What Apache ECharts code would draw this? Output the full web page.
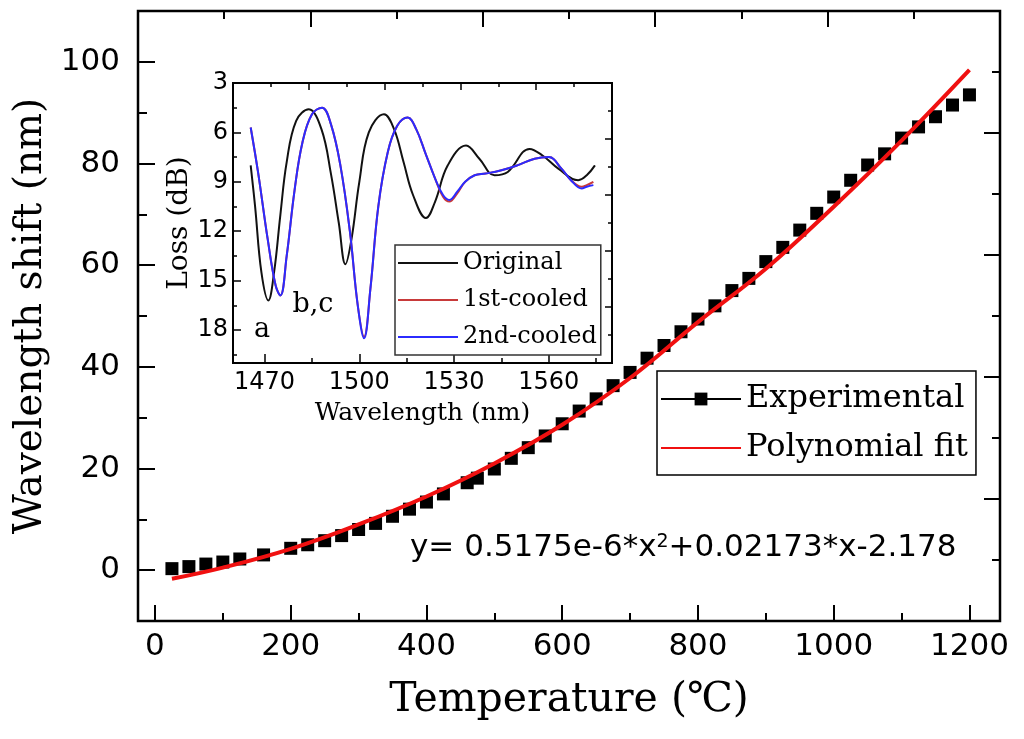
<!DOCTYPE html>
<html><head><meta charset="utf-8">
<script src="https://cdn.jsdelivr.net/npm/echarts@6/dist/echarts.min.js"></script>
<style>html,body{margin:0;padding:0;background:#fff}#c{width:1024px;height:739px}</style>
</head><body><div id="c"></div>
<script>
// ---- main chart data ----
const tempC = [25,50,75,100,125,160,200,225,250,275,300,325,350,375,400,425,460,475,500,525,550,575,600,625,650,675,700,725,750,775,800,825,850,875,900,925,950,975,1000,1025,1050,1075,1100,1125,1150,1175,1200];
const shiftNm = [0.3,0.7,1.2,1.6,2.2,3.0,4.3,5.0,5.8,6.8,8.0,9.2,10.6,12.0,13.4,15.0,17.2,18.1,19.9,22.0,24.1,26.4,28.8,31.3,33.7,36.3,38.9,41.7,44.2,46.9,49.4,52.0,55.0,57.4,60.7,63.5,66.9,70.2,73.4,76.7,79.7,81.9,85.0,87.2,89.2,91.5,93.5];
const fitTemp = [25,100,200,300,400,500,600,700,800,900,1000,1100,1200];
const fitShift = [-1.7,0.5,4.2,9.0,14.5,21.0,28.6,37.8,48.8,59.3,71.5,84.5,98.4];
const xMajorTicks = [0,200,400,600,800,1000,1200];
const xMinorTicks = [100,300,500,700,900,1100];
const yMajorTicks = [0,20,40,60,80,100];
const yMinorTicks = [10,30,50,70,90];
const formulaText = 'y= 0.5175e-6*x{sup|2}+0.02173*x-2.178';

// ---- inset data ----
const origWl = [1465.6,1467,1469,1471.2,1473,1475,1477,1480,1484,1488,1491,1493.5,1495.6,1497.5,1500,1503,1507.8,1511,1514,1517,1521.1,1524,1528,1533.8,1538,1542.8,1547,1553.9,1558,1563,1569.3,1572,1574.6];
const origLoss = [8.0,10.5,14.5,16.2,14.5,11.0,7.8,5.3,4.6,5.8,8.5,11.5,14.0,12.5,9.0,6.0,4.9,5.8,7.8,9.8,11.2,10.2,8.0,6.8,7.6,8.6,8.4,7.0,7.4,8.2,8.9,8.6,8.0];
const cooledWl = [1465.6,1468,1471,1473.5,1475,1477,1479.5,1482,1485,1488.2,1491,1494,1497,1499.5,1501.5,1503.5,1506,1509,1512,1515.3,1518,1521,1524,1526.5,1528.5,1531,1533.5,1536.5,1540,1545,1550,1555.5,1560,1564,1567,1570.4,1572,1574.1];
const cooled1Loss = [5.7,8.5,12.5,15.3,15.9,13.5,9.5,6.6,4.9,4.5,5.5,8.0,12.0,16.5,18.4,15.5,10.5,7.2,5.6,5.1,5.8,7.3,8.8,9.9,10.2,9.7,9.0,8.6,8.5,8.3,8.0,7.6,7.5,8.2,8.9,9.3,9.2,9.0];
const cooled2Loss = [5.7,8.5,12.5,15.3,15.9,13.5,9.5,6.6,4.9,4.5,5.5,8.0,12.0,16.5,18.5,15.5,10.5,7.2,5.6,5.1,5.8,7.3,8.8,9.8,10.1,9.6,9.0,8.6,8.5,8.3,8.0,7.6,7.5,8.2,8.9,9.4,9.3,9.2];
const insetXMajor = [1470,1500,1530,1560];
const insetXMinor = [1485,1515,1545,1575];
const insetYMajor = [3,6,9,12,15,18];
const insetYMinor = [4.5,7.5,10.5,13.5,16.5,19.5];

const zip = (a, b) => a.map((v, i) => [v, b[i]]);
const SANS = 'DejaVu Sans', SERIF = 'DejaVu Serif';
const plain = v => String(v);
const NOLINE = {show: false, onZero: false};

function tickOnly(base, ticks, len, w) {
  const tick = {show: true, inside: true, length: len, lineStyle: {color: '#000', width: w}};
  if (ticks) tick.customValues = ticks;
  return Object.assign({
    type: 'value', axisLine: NOLINE, splitLine: {show: false},
    axisLabel: {show: false}, axisTick: tick
  }, base);
}

const xAxes = [
  {type: 'value', gridIndex: 0, position: 'bottom', min: -25, max: 1245,
   axisLine: NOLINE, splitLine: {show: false},
   axisTick: {show: true, inside: true, length: 16, customValues: xMajorTicks, lineStyle: {color: '#000', width: 2}},
   axisLabel: {show: true, customValues: xMajorTicks, formatter: plain, margin: 10, color: '#000', fontSize: 31, fontFamily: SANS},
   name: 'Temperature (℃)', nameLocation: 'middle', nameGap: 59,
   nameTextStyle: {color: '#000', fontSize: 41, fontFamily: SERIF}},
  tickOnly({gridIndex: 0, position: 'bottom', min: -25, max: 1245}, xMinorTicks, 8, 2),
  tickOnly({gridIndex: 0, position: 'top', min: 0, max: 10, interval: 2}, null, 16, 2),
  tickOnly({gridIndex: 0, position: 'top', min: 0, max: 10, interval: 1}, null, 8, 2),
  {type: 'value', gridIndex: 1, position: 'bottom', min: 1460, max: 1580,
   axisLine: NOLINE, splitLine: {show: false},
   axisTick: {show: true, inside: true, length: 9, customValues: insetXMajor, lineStyle: {color: '#000', width: 1.5}},
   axisLabel: {show: true, customValues: insetXMajor, formatter: plain, margin: 8, color: '#000', fontSize: 24, fontFamily: SANS},
   name: 'Wavelength (nm)', nameLocation: 'middle', nameGap: 38,
   nameTextStyle: {color: '#000', fontSize: 25, fontFamily: SERIF}},
  tickOnly({gridIndex: 1, position: 'bottom', min: 1460, max: 1580}, insetXMinor, 5, 1.5),
  tickOnly({gridIndex: 1, position: 'top', min: 0, max: 10, interval: 2}, null, 7, 1.5),
  tickOnly({gridIndex: 1, position: 'top', min: 0, max: 10, interval: 1}, null, 4, 1.5)
];

const yAxes = [
  {type: 'value', gridIndex: 0, position: 'left', min: -10, max: 110,
   axisLine: NOLINE, splitLine: {show: false},
   axisTick: {show: true, inside: true, length: 17, customValues: yMajorTicks, lineStyle: {color: '#000', width: 2}},
   axisLabel: {show: true, customValues: yMajorTicks, formatter: plain, margin: 18, color: '#000', fontSize: 31, fontFamily: SANS},
   name: 'Wavelength shift (nm)', nameLocation: 'middle', nameGap: 86,
   nameTextStyle: {color: '#000', fontSize: 39, fontFamily: SERIF}},
  tickOnly({gridIndex: 0, position: 'left', min: -10, max: 110}, yMinorTicks, 9, 2),
  tickOnly({gridIndex: 0, position: 'right', min: 0, max: 10, interval: 2}, null, 16, 2),
  tickOnly({gridIndex: 0, position: 'right', min: 0, max: 10, interval: 1}, null, 8, 2),
  {type: 'value', gridIndex: 1, position: 'left', min: 3, max: 20, inverse: true,
   axisLine: NOLINE, splitLine: {show: false},
   axisTick: {show: true, inside: true, length: 8, customValues: insetYMajor, lineStyle: {color: '#000', width: 1.5}},
   axisLabel: {show: true, customValues: insetYMajor, formatter: plain, margin: 5, color: '#000', fontSize: 24, fontFamily: SANS},
   name: 'Loss (dB)', nameLocation: 'middle', nameGap: 35,
   nameTextStyle: {color: '#000', fontSize: 28, fontFamily: SERIF}},
  tickOnly({gridIndex: 1, position: 'left', min: 3, max: 20, inverse: true}, insetYMinor, 4, 1.5),
  tickOnly({gridIndex: 1, position: 'right', min: 0, max: 10, interval: 2}, null, 7, 1.5),
  tickOnly({gridIndex: 1, position: 'right', min: 0, max: 10, interval: 1}, null, 4, 1.5)
];

const chart = echarts.init(document.getElementById('c'), null, {renderer: 'canvas'});
chart.setOption({
  animation: false,
  backgroundColor: '#fff',
  grid: [
    {left: 138, top: 11, width: 862, height: 610, show: true, borderColor: '#000', borderWidth: 2.5, backgroundColor: 'transparent'},
    {left: 233, top: 83, width: 379, height: 280, show: true, borderColor: '#000', borderWidth: 2, backgroundColor: '#fff'}
  ],
  xAxis: xAxes,
  yAxis: yAxes,
  legend: [
    {orient: 'vertical', left: 657, top: 371, padding: [12, 8, 11, 3], itemGap: 17,
     itemWidth: 80, itemHeight: 16, borderColor: '#000', borderWidth: 1.5, backgroundColor: '#fff',
     textStyle: {color: '#000', fontSize: 32, fontFamily: SERIF},
     data: [
       {name: 'Experimental', lineStyle: {color: '#000', width: 2, opacity: 1}},
       {name: 'Polynomial fit', itemStyle: {opacity: 0}}
     ]},
    {orient: 'vertical', left: 395, top: 245, padding: [6, 4, 6, 2], itemGap: 13,
     itemWidth: 60, itemHeight: 10, borderColor: '#333', borderWidth: 1.5, backgroundColor: '#fff',
     textStyle: {color: '#000', fontSize: 24, fontFamily: SERIF},
     data: [
       {name: 'Original', itemStyle: {opacity: 0}},
       {name: '1st-cooled', itemStyle: {opacity: 0}},
       {name: '2nd-cooled', itemStyle: {opacity: 0}}
     ]}
  ],
  series: [
    {name: 'Experimental', type: 'line', xAxisIndex: 0, yAxisIndex: 0, data: zip(tempC, shiftNm),
     symbol: 'rect', symbolSize: 13, showSymbol: true, itemStyle: {color: '#000'},
     lineStyle: {color: '#000', opacity: 0}, z: 2},
    {name: 'Polynomial fit', type: 'line', xAxisIndex: 0, yAxisIndex: 0, data: zip(fitTemp, fitShift),
     smooth: 0.4, showSymbol: false, symbol: 'circle', itemStyle: {color: '#f01010'},
     lineStyle: {color: '#f01010', width: 4}, z: 3},
    {name: 'Original', type: 'line', xAxisIndex: 4, yAxisIndex: 4, data: zip(origWl, origLoss),
     smooth: 0.4, showSymbol: false, symbol: 'circle', itemStyle: {color: '#111'},
     lineStyle: {color: '#111', width: 2}, z: 4},
    {name: '1st-cooled', type: 'line', xAxisIndex: 4, yAxisIndex: 4, data: zip(cooledWl, cooled1Loss),
     smooth: 0.4, showSymbol: false, symbol: 'circle', itemStyle: {color: '#c83a3a'},
     lineStyle: {color: '#c83a3a', width: 2}, z: 4},
    {name: '2nd-cooled', type: 'line', xAxisIndex: 4, yAxisIndex: 4, data: zip(cooledWl, cooled2Loss),
     smooth: 0.4, showSymbol: false, symbol: 'circle', itemStyle: {color: '#2b2bff'},
     lineStyle: {color: '#2b2bff', width: 2}, z: 5}
  ],
  graphic: [
    {type: 'text', x: 410, y: 548, z: 10,
     style: {text: formulaText, fill: '#000', fontSize: 31, fontFamily: SANS, verticalAlign: 'middle', align: 'left',
             rich: {sup: {fontSize: 19, fontFamily: SANS, fill: '#000', verticalAlign: 'top'}}}},
    {type: 'text', x: 262, y: 330, z: 10,
     style: {text: 'a', fill: '#000', fontSize: 27, fontFamily: SERIF, align: 'center', verticalAlign: 'middle'}},
    {type: 'text', x: 313, y: 305, z: 10,
     style: {text: 'b,c', fill: '#000', fontSize: 27, fontFamily: SERIF, align: 'center', verticalAlign: 'middle'}}
  ]
});
</script></body></html>
